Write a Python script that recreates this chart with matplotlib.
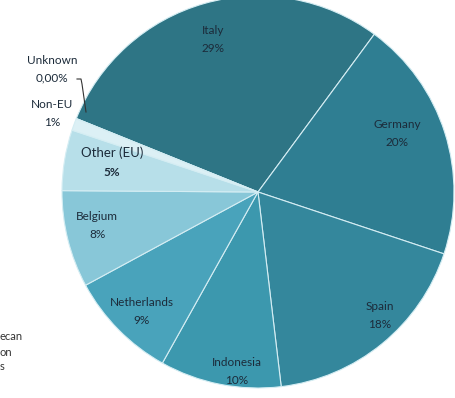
import matplotlib.pyplot as plt

# data
countries = ["Italy", "Germany", "Spain", "Indonesia", "Netherlands",
             "Belgium", "Other (EU)", "Non-EU", "Unknown"]
shares = [29, 20, 18, 10, 9, 8, 5, 1, 0.0]
pct_labels = ["29%", "20%", "18%", "10%", "9%", "8%", "5%", "1%", "0,00%"]
colors = ["#2e7585", "#2f7e92", "#34879c", "#3c98ae", "#49a3bb",
          "#88c7d8", "#b7dfe9", "#dcf0f5", "#dcf0f5"]

plt.rcParams['font.family'] = ['Lato', 'DejaVu Sans']

fig = plt.figure(figsize=(4.55, 3.98), dpi=100)
ax = fig.add_axes([0, 0, 1, 1])

cx, cy, r = 258, 398 - 192, 196
ax.pie(shares, colors=colors, startangle=158, counterclock=False,
       center=(cx, cy), radius=r, frame=True,
       wedgeprops=dict(edgecolor="#d4edf3", linewidth=0.8))
ax.set_xlim(0, 455)
ax.set_ylim(0, 398)
ax.axis('off')

# label positions (pixels from top-left)
pos = {"Italy": (213, 30), "Germany": (397, 124), "Spain": (380, 306),
       "Indonesia": (237, 362), "Netherlands": (142, 303),
       "Belgium": (97, 217), "Other (EU)": (112, 153),
       "Non-EU": (52, 104), "Unknown": (52, 60)}
tc = "#1c2b3a"
for name, pct in zip(countries, pct_labels):
    x, y = pos[name]
    if name == "Other (EU)":
        ax.text(x, 398 - y, name, ha='center', va='center', fontsize=9.5, color=tc)
        ax.text(x, 398 - y - 19, pct, ha='center', va='center', fontsize=8.5,
                color=tc, fontweight='bold')
    else:
        ax.text(x, 398 - y, name, ha='center', va='center', fontsize=8.5, color=tc)
        ax.text(x, 398 - y - 18, pct, ha='center', va='center', fontsize=8.5, color=tc)

# leader line for the Unknown slice
ax.plot([77, 81, 82, 86], [398 - 79, 398 - 79, 398 - 84, 398 - 112],
        color="#333333", linewidth=0.8)

# cut-off text at the bottom left
ax.text(0, 398 - 337, "ecan", ha='left', va='center', fontsize=8, color="#333333")
ax.text(0, 398 - 352, "on", ha='left', va='center', fontsize=8, color="#333333")
ax.text(0, 398 - 367, "s", ha='left', va='center', fontsize=8, color="#333333")

plt.savefig("out.png", dpi=100)
